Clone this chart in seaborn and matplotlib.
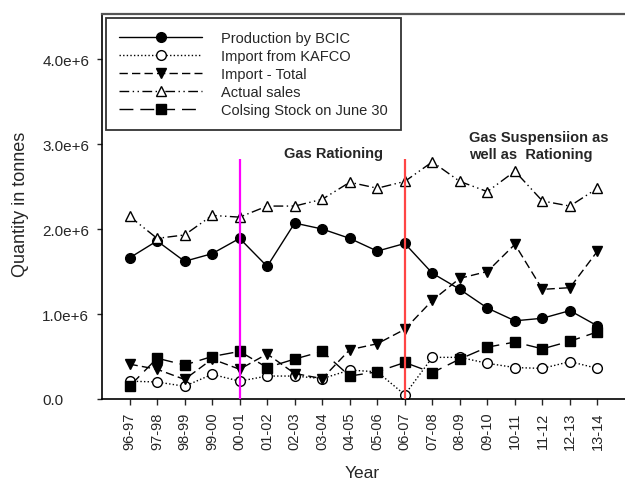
import matplotlib
matplotlib.use('Agg')
import matplotlib.pyplot as plt
from matplotlib.ticker import FuncFormatter
import seaborn as sns
import numpy as np

# data (tonnes)
years = ['96-97', '97-98', '98-99', '99-00', '00-01', '01-02', '02-03', '03-04', '04-05',
         '05-06', '06-07', '07-08', '08-09', '09-10', '10-11', '11-12', '12-13', '13-14']
production_bcic = [1.66, 1.86, 1.62, 1.71, 1.89, 1.56, 2.07, 2.00, 1.89,
                   1.74, 1.83, 1.48, 1.29, 1.07, 0.92, 0.95, 1.04, 0.86]
import_kafco = [0.21, 0.20, 0.15, 0.29, 0.21, 0.27, 0.27, 0.24, 0.34,
                0.32, 0.05, 0.49, 0.49, 0.42, 0.37, 0.36, 0.44, 0.36]
import_total = [0.41, 0.35, 0.23, 0.47, 0.35, 0.53, 0.30, 0.24, 0.58,
                0.65, 0.82, 1.16, 1.42, 1.50, 1.82, 1.29, 1.31, 1.74]
actual_sales = [2.15, 1.89, 1.93, 2.16, 2.14, 2.27, 2.27, 2.35, 2.55,
                2.48, 2.56, 2.79, 2.56, 2.44, 2.68, 2.33, 2.27, 2.48]
closing_stock = [0.15, 0.48, 0.40, 0.50, 0.56, 0.37, 0.47, 0.56, 0.27,
                 0.32, 0.43, 0.31, 0.47, 0.61, 0.67, 0.59, 0.68, 0.79]

# policy events (index into years)
event_years = ['00-01', '06-07']
event_colors = ['#FF00FF', '#FF4545']
event_top = 2.82e6

sns.set_style('ticks')
plt.rcParams['font.family'] = ['Liberation Sans', 'DejaVu Sans']

fig = plt.figure(figsize=(6.25, 4.81), dpi=100)
ax = fig.add_axes([102 / 625, 81 / 481, 523 / 625, 385 / 481])

x = np.arange(len(years))
series = [
    ('Production by BCIC', production_bcic, '-', 'o', 'black', 7),
    ('Import from KAFCO', import_kafco, (0, (1, 1.6)), 'o', 'white', 7),
    ('Import - Total', import_total, (0, (6, 3)), 'v', 'black', 7.5),
    ('Actual sales', actual_sales, (0, (7, 2.5, 1, 2.5, 1, 2.5)), '^', 'white', 7.5),
    ('Colsing Stock on June 30', closing_stock, (0, (10, 5)), 's', 'black', 6.5),
]
for label, vals, ls, mk, mfc, ms in series:
    sns.lineplot(x=x, y=np.array(vals) * 1e6, ax=ax, label=label, color='black',
                 linestyle=ls, linewidth=1.0, marker=mk, markersize=ms,
                 markerfacecolor=mfc, markeredgecolor='black', markeredgewidth=1.0)

ev_x = [years.index(y) for y in event_years]
ax.vlines(ev_x, 0, event_top, colors=event_colors, linewidth=1.6, zorder=6)

ax.text(7.4, 2.9e6, 'Gas Rationing', fontsize=10.5, fontweight='bold',
        ha='center', va='center')
ax.text(12.33, 3.16e6, 'Gas Suspensiion as\nwell as  Rationing', fontsize=10.5,
        fontweight='bold', ha='left', va='top', linespacing=1.25)

ax.set_xlim(-1, 18)
ax.set_ylim(0, 4.53e6)
ax.set_xticks(x)
ax.set_xticklabels(years, rotation=90, fontsize=10.5)
ax.set_yticks([0, 1e6, 2e6, 3e6, 4e6])
ax.yaxis.set_major_formatter(FuncFormatter(
    lambda v, p: '0.0' if v == 0 else f'{v / 1e6:.1f}e+6'))
ax.tick_params(axis='y', labelsize=11, length=3.5, width=1, pad=39.5)
ax.tick_params(axis='x', length=4, width=1, pad=5)
for lbl in ax.get_yticklabels():
    lbl.set_horizontalalignment('left')

ax.set_xlabel('Year', fontsize=12.5, va='center')
ax.set_ylabel('Quantity in tonnes', fontsize=13, va='center', ha='center')
ax.xaxis.set_label_coords(0.497, -0.192)
ax.yaxis.set_label_coords(-0.156, 0.507)

ax.spines['right'].set_visible(False)
ax.spines['top'].set_color('#555555')
ax.spines['top'].set_linewidth(1.6)
for s in ['left', 'bottom']:
    ax.spines[s].set_linewidth(1.2)
    ax.spines[s].set_color('black')

leg = ax.legend(loc='upper left', bbox_to_anchor=(0.0076, 0.99), borderaxespad=0,
                fontsize=10.5, handlelength=5.7, handletextpad=1.3, labelspacing=0.28,
                borderpad=0.9, fancybox=False, framealpha=1, edgecolor='#333333')
leg.get_frame().set_linewidth(1.3)

fig.savefig('out.png', dpi=100)
